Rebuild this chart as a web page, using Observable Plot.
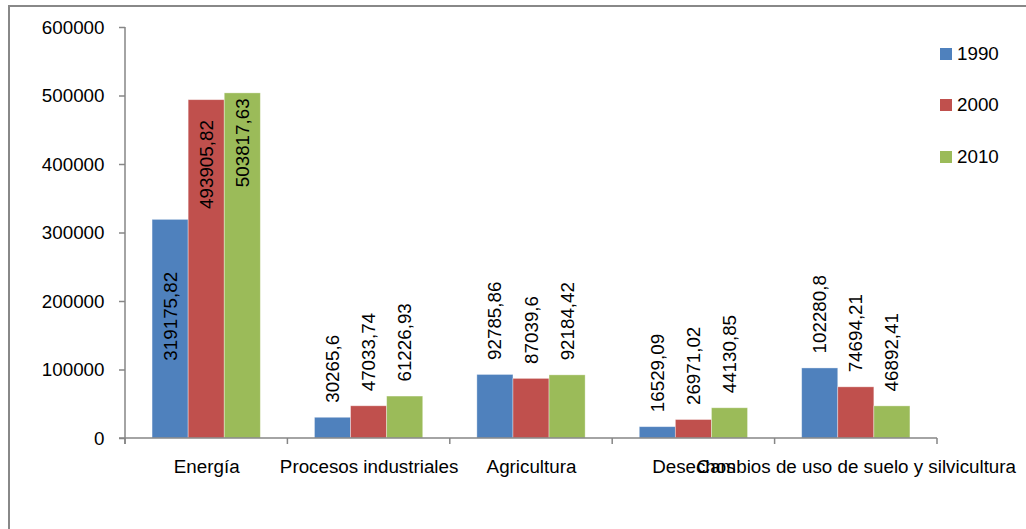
<!DOCTYPE html>
<html>
<head>
<meta charset="utf-8">
<script src="https://cdn.jsdelivr.net/npm/d3@7"></script>
<script src="https://cdn.jsdelivr.net/npm/@observablehq/plot@0.6"></script>
<style>
  html, body { margin: 0; padding: 0; background: #fff; }
  #wrap { position: relative; width: 1026px; height: 529px; overflow: hidden; font-family: "Liberation Sans", Arial, sans-serif; }
  #border { position: absolute; left: 8px; top: 5px; width: 1200px; height: 700px; border: 2px solid #888; box-sizing: border-box; pointer-events: none; z-index: 2; }
  #legend { position: absolute; left: 940px; top: 48px; z-index: 3; }
  .row { display: flex; align-items: center; height: 12px; margin-bottom: 39.3px; font-size: 18.8px; color: #000; }
  .sw { width: 12px; height: 12px; margin-right: 5px; }
</style>
</head>
<body>
<div id="wrap">
  <div id="chart"></div>
  <div id="border"></div>
  <div id="legend"></div>
</div>
<script>
const categories = ["Energía", "Procesos industriales", "Agricultura", "Desechos", "Cambios de uso de suelo y silvicultura"];
const years = ["1990", "2000", "2010"];
const values1990 = [319175.82, 30265.6, 92785.86, 16529.09, 102280.8];
const values2000 = [493905.82, 47033.74, 87039.6, 26971.02, 74694.21];
const values2010 = [503817.63, 61226.93, 92184.42, 44130.85, 46892.41];
const yTicks = [0, 100000, 200000, 300000, 400000, 500000, 600000];
const colors = ["#4F81BD", "#C0504D", "#9BBB59"];

const series = [values1990, values2000, values2010];
const data = [];
categories.forEach((cat, i) => {
  years.forEach((yr, j) => {
    data.push({cat, year: yr, value: series[j][i], label: String(series[j][i]).replace(".", ",")});
  });
});
const insideCat = categories[0];
const insideDy = {"1990": 52, "2000": 20, "2010": 5};
const outside = data.filter(d => d.cat !== insideCat);

const FS = 18.8;
const insideMarks = years.map(yr =>
  Plot.text(data.filter(d => d.cat === insideCat && d.year === yr), {
    fx: "cat", x: "year", y: "value", text: "label", rotate: -90, textAnchor: "end",
    dy: insideDy[yr], fontSize: FS, fill: "#000"
  })
);

const chart = Plot.plot({
  width: 1026,
  height: 529,
  marginLeft: 125,
  marginRight: 89,
  marginTop: 27,
  marginBottom: 91,
  style: {fontFamily: "Liberation Sans, Arial, sans-serif", fontSize: FS + "px", background: "transparent", color: "#000"},
  fx: {domain: categories, padding: 0, round: false, label: null, axis: null},
  x: {domain: years, paddingInner: 0, paddingOuter: 0.75, round: false, axis: null},
  y: {domain: [0, 600000], axis: null},
  color: {domain: years, range: colors},
  marks: [
    Plot.barY(data, {fx: "cat", x: "year", y: "value", fill: "year", stroke: "#fff", strokeOpacity: 0.45, strokeWidth: 0.8}),
    Plot.axisY({ticks: yTicks, tickSize: 6, tickPadding: 15, tickFormat: d => String(d), fontSize: FS, stroke: "#868686", strokeWidth: 1.5, fill: "#000", label: null}),
    Plot.axisFx({anchor: "bottom", tickSize: 0, tickPadding: 21, fontSize: FS, fill: "#000", label: null}),
    Plot.text(outside, {fx: "cat", x: "year", y: "value", text: "label", rotate: -90, textAnchor: "start", dy: -15, fontSize: FS, fill: "#000"}),
    ...insideMarks
  ]
});

document.getElementById("chart").appendChild(chart);

const svg = d3.select(chart);
const fxS = chart.scale("fx");
const yS = chart.scale("y");
const band = d3.scaleBand().domain(fxS.domain).range(fxS.range).paddingInner(0).paddingOuter(0);
const yLin = d3.scaleLinear().domain(yS.domain).range(yS.range);
const left = fxS.range[0], right = fxS.range[1];
const y0 = yLin(0), yTop = yLin(600000);
const axisG = svg.append("g").attr("stroke", "#868686").attr("stroke-width", 1.5);
axisG.append("line").attr("x1", left).attr("x2", left).attr("y1", yTop).attr("y2", y0 + 6);
axisG.append("line").attr("x1", left - 6).attr("x2", right).attr("y1", y0).attr("y2", y0);
const bounds = categories.map(c => band(c)).concat([right]);
bounds.forEach(b => axisG.append("line").attr("x1", b).attr("x2", b).attr("y1", y0).attr("y2", y0 + 6));

const legend = d3.select("#legend");
years.forEach((yr, i) => {
  const row = legend.append("div").attr("class", "row");
  row.append("div").attr("class", "sw").style("background", colors[i]);
  row.append("span").text(yr);
});
</script>
</body>
</html>
